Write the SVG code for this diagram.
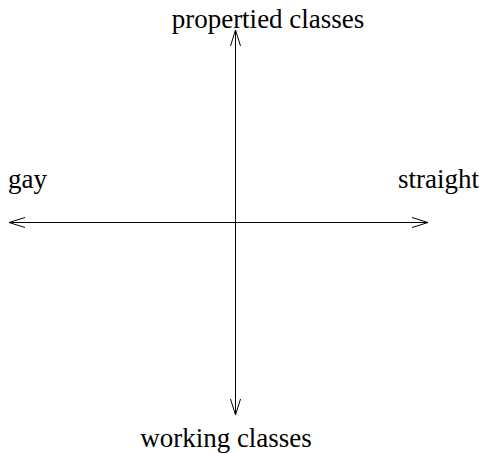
<svg xmlns="http://www.w3.org/2000/svg" width="481" height="454" viewBox="0 0 481 454">
<style>
.lbl{font-family:"Liberation Serif","Times New Roman",serif;font-size:27px;fill:#000}
.ax{stroke:#000;stroke-width:1;fill:none}
</style>
<rect width="481" height="454" fill="#fff"/>
<g id="connectors">
<path class="ax" d="M235.5,30 V415"/>
<path class="ax" d="M9,222.5 H428"/>
<path class="ax" d="M230.5,46 L235.5,30 L240.5,46 M230.5,399 L235.5,415 L240.5,399"/>
<path class="ax" d="M25,217.5 L9,222.5 L25,227.5 M412,217.5 L428,222.5 L412,227.5"/>
</g>
<g id="propertied"><text class="lbl" x="268" y="28" text-anchor="middle">propertied classes</text></g>
<g id="working"><text class="lbl" x="226" y="447" text-anchor="middle">working classes</text></g>
<g id="gay"><text class="lbl" x="8" y="188">gay</text></g>
<g id="straight"><text class="lbl" x="398" y="188">straight</text></g>
</svg>
